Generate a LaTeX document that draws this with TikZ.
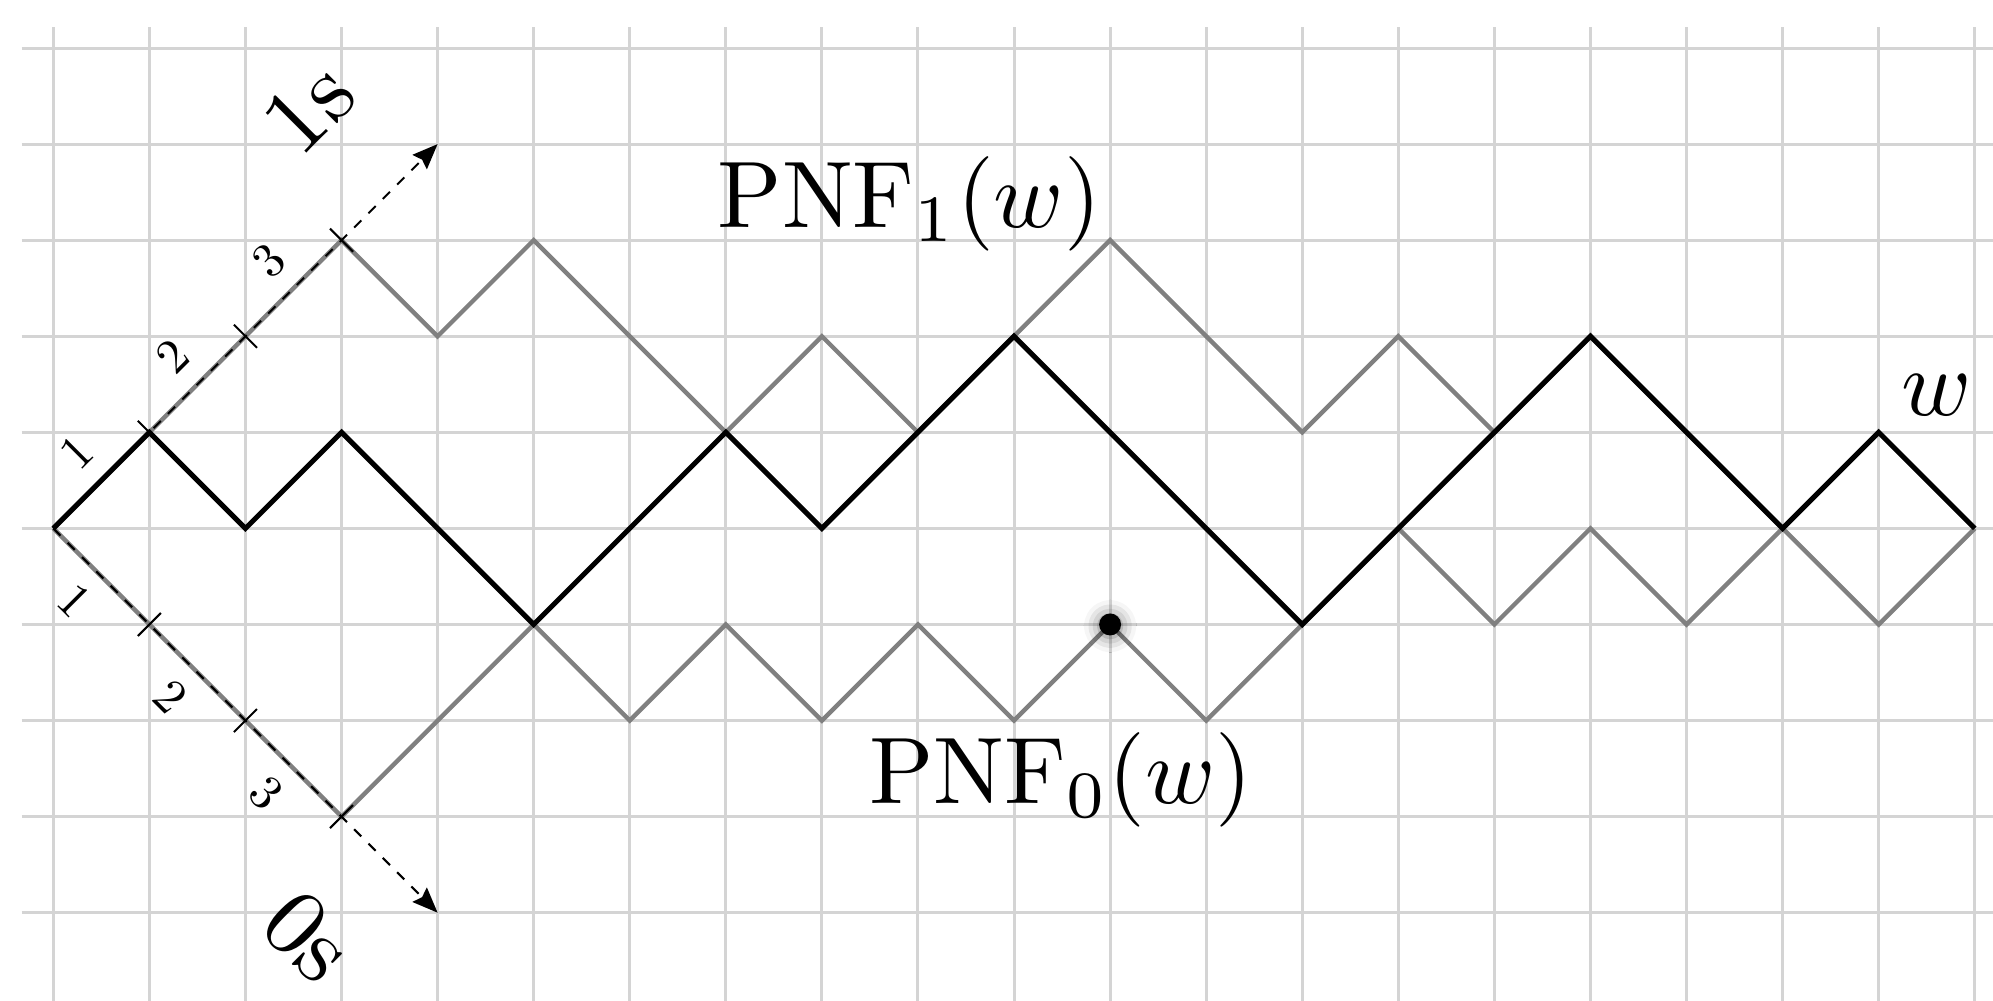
\documentclass[tikz,border=0pt]{standalone}
\usepackage{amsmath}
\usepackage{tikz}
\usetikzlibrary{arrows.meta, shadows.blur}

\begin{document}
\begin{tikzpicture}[
	gridline/.style={line width=0.9pt, black!17},
	pathw/.style={line width=1.5pt, black},
	pathpnf/.style={line width=1.3pt, black!50},
	axisline/.style={semithick, dashed, -{Stealth[length=7.5pt,width=6pt,inset=1pt]}},
	tickmark/.style={semithick},
	biglabel/.style={font=\fontsize{10}{12}\selectfont, inner sep=0pt, scale=2.8},
	ticklabel/.style={font=\fontsize{10}{12}\selectfont, inner sep=0pt, scale=1.45},
	dotnode/.style={circle, fill=black, inner sep=0pt, minimum size=6.5pt,
		blur shadow={shadow xshift=0pt, shadow yshift=-0.5pt, shadow blur radius=4.5pt, shadow opacity=55}}
]
	\clip (-0.555,-4.91) rectangle (20.19,5.5);
	\draw[gridline] (-0.33,-5.5) grid (20.5,5.22);
	% heights of the three paths
	\foreach \h [count=\i from 0] in {0,1,0,1,0,-1,0,1,0,1,2,1,0,-1,0,1,2,1,0,1,0}{\coordinate (W\i) at (\i,\h);}
	\foreach \h [count=\i from 0] in {0,1,2,3,2,3,2,1,2,1,2,3,2,1,2,1,2,1,0,1,0}{\coordinate (A\i) at (\i,\h);}
	\foreach \h [count=\i from 0] in {0,-1,-2,-3,-2,-1,-2,-1,-2,-1,-2,-1,-2,-1,0,-1,0,-1,0,-1,0}{\coordinate (B\i) at (\i,\h);}
	\draw[pathpnf] (A0) \foreach \i in {1,...,20}{ -- (A\i)};
	\draw[pathpnf] (B0) \foreach \i in {1,...,20}{ -- (B\i)};
	\draw[pathw] (W0) \foreach \i in {1,...,20}{ -- (W\i)};
	% axes
	\coordinate (onesend) at (4,4);
	\coordinate (zerosend) at (4,-4);
	\draw[axisline] (W0) -- (onesend);
	\draw[axisline] (W0) -- (zerosend);
	\foreach \k in {1,2,3}{
		\draw[tickmark] ({\k-0.12},{\k+0.12}) -- ({\k+0.12},{\k-0.12});
		\draw[tickmark] ({\k-0.12},{-\k-0.12}) -- ({\k+0.12},{-\k+0.12});
		\node[ticklabel, rotate=45] (one\k) at ({\k-0.76},{\k-0.21}) {\k};
		\node[ticklabel, rotate=-45] (zero\k) at ({\k-0.78},{-\k+0.25}) {\k};
	}
	\node[biglabel, rotate=45] (ones) at (2.66,4.38) {1s};
	\node[biglabel, rotate=-45] (zeros) at (2.66,-4.25) {0s};
	\node[dotnode] (peak) at (B11) {};
	\node[biglabel, anchor=base] (pnfone) at (8.91,3.135) {$\mathrm{PNF}_1(w)$};
	\node[biglabel, anchor=base] (pnfzero) at (10.49,-2.86) {$\mathrm{PNF}_0(w)$};
	\node[biglabel, anchor=base] (wlabel) at (19.6,1.18) {$w$};
\end{tikzpicture}
\end{document}
